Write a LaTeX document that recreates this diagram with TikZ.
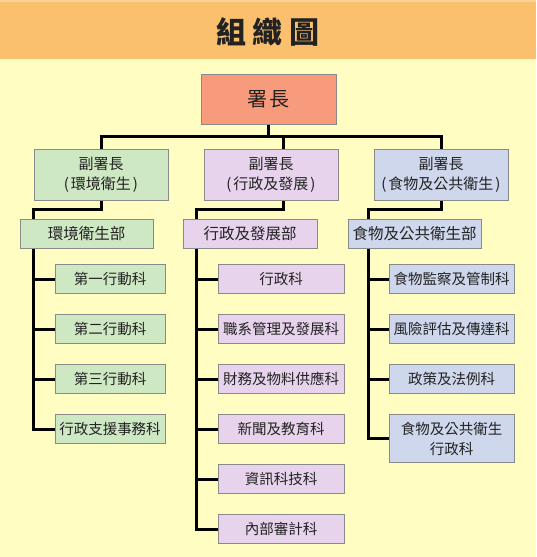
\documentclass[tikz,border=0pt]{standalone}
\usepackage{fontspec}
\newfontfamily\cjk{Noto Sans CJK TC}
\usetikzlibrary{positioning}
\definecolor{paper}{HTML}{FFFDC2}
\definecolor{band}{HTML}{FAC06E}
\definecolor{bandtop}{HTML}{FCD29A}
\definecolor{chief}{HTML}{F89B7C}
\definecolor{envgreen}{HTML}{CFE8C4}
\definecolor{admpurple}{HTML}{E7D4EC}
\definecolor{foodblue}{HTML}{CED7EB}
\definecolor{rim}{HTML}{8A8A8A}
\definecolor{ink}{HTML}{222222}
\begin{document}
\begin{tikzpicture}[x=1pt,y=-1pt,node distance=20.5pt]
  \tikzstyle{box}=[draw=rim,line width=1pt,inner sep=0pt,text=ink,align=center]
  \tikzstyle{deputy}=[box,minimum width=134pt,minimum height=51pt,font=\cjk\fontsize{15}{20}\selectfont]
  \tikzstyle{dept}=[box,minimum width=133pt,minimum height=29pt,font=\cjk\fontsize{15.5}{20}\selectfont]
  \tikzstyle{unit}=[box,minimum height=28.5pt,font=\cjk\fontsize{14.5}{20}\selectfont]
  \tikzstyle{link}=[line width=3pt,black]
  \useasboundingbox (0,0) rectangle (536,557);
  \fill[paper] (0,0) rectangle (536,557);
  \fill[band] (0,0) rectangle (536,59);
  \fill[bandtop] (0,0) rectangle (536,2);
  \node[text=ink,font=\cjk\bfseries\fontsize{30}{30}\selectfont] (title) at (268,32) {組\hspace{7pt}織\hspace{7pt}圖};

  \node[box,fill=chief,minimum width=135pt,minimum height=50pt,font=\cjk\fontsize{20}{20}\selectfont] (boss) at (268.5,99) {署\hspace{2pt}長};

  \node[deputy,fill=envgreen] (depA) at (101,175) {副署長\\(\hspace{2pt}環境衛生\hspace{2pt})};
  \node[deputy,fill=admpurple] (depB) at (271,175) {副署長\\(\hspace{2pt}行政及發展\hspace{2pt})};
  \node[deputy,fill=foodblue] (depC) at (441,175) {副署長\\(\hspace{2pt}食物及公共衛生\hspace{2pt})};

  \node[dept,fill=envgreen] (secA) at (86.5,233.5) {環境衛生部};
  \node[dept,fill=admpurple,minimum width=134pt] (secB) at (250,233.5) {行政及發展部};
  \node[dept,fill=foodblue] (secC) at (414.5,233.5) {食物及公共衛生部};

  % environmental hygiene units
  \tikzstyle{unitA}=[unit,fill=envgreen,minimum width=110pt]
  \node[unitA] (a1) at (110,279) {第一行動科};
  \node[unitA,below=of a1] (a2) {第二行動科};
  \node[unitA,below=of a2] (a3) {第三行動科};
  \node[unitA,below=of a3] (a4) {行政支援事務科};

  % administration and development units
  \tikzstyle{unitB}=[unit,fill=admpurple,minimum width=126pt]
  \node[unitB] (b1) at (281,279) {行政科};
  \node[unitB,below=of b1] (b2) {職系管理及發展科};
  \node[unitB,below=of b2] (b3) {財務及物料供應科};
  \node[unitB,below=of b3] (b4) {新聞及教育科};
  \node[unitB,below=of b4] (b5) {資訊科技科};
  \node[unitB,below=of b5] (b6) {內部審計科};

  % food and public hygiene units
  \tikzstyle{unitC}=[unit,fill=foodblue,minimum width=125pt]
  \node[unitC] (c1) at (451.5,279) {食物監察及管制科};
  \node[unitC,below=of c1] (c2) {風險評估及傳達科};
  \node[unitC,below=of c2] (c3) {政策及法例科};
  \node[unitC,below=of c3,minimum height=48pt] (c4) {食物及公共衛生\\行政科};

  \coordinate (spineA) at (33,219);
  \coordinate (spineB) at (196,219);
  \coordinate (spineC) at (368,219);

  \draw[link] (boss.south) -- ++(0,12) coordinate (bus);
  \draw[link] (depA.north) |- (bus) -| (depC.north);
  \draw[link] ([xshift=12pt]depB.north) -- ([xshift=12pt]depB.north |- bus);

  \draw[link] (depA.south) -- ++(0,8) -| (spineA);
  \draw[link] ([xshift=12pt]depB.south) -- ++(0,8) -| (spineB);
  \draw[link] (depC.south) -- ++(0,8) -| (spineC);

  \draw[link] (spineA |- secA.south) |- (a4.west);
  \foreach \i in {1,2,3}
    \draw[link] (spineA |- a\i.west) -- (a\i.west);
  \draw[link] (spineB |- secB.south) |- (b6.west);
  \foreach \i in {1,...,5}
    \draw[link] (spineB |- b\i.west) -- (b\i.west);
  \draw[link] (spineC |- secC.south) |- (c4.west);
  \foreach \i in {1,2,3}
    \draw[link] (spineC |- c\i.west) -- (c\i.west);
\end{tikzpicture}
\end{document}
